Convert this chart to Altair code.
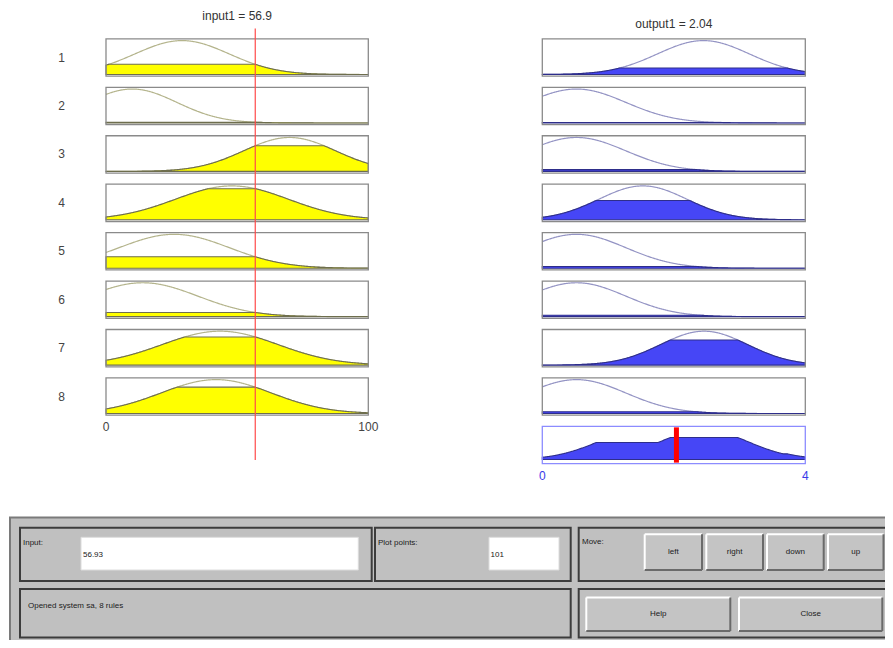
import altair as alt
import numpy as np
import pandas as pd

# ---------------- data ----------------
INPUT_NAME = "input1"
OUTPUT_NAME = "output1"
INPUT_VALUE = 56.9
INPUT_FIELD_TEXT = "56.93"
OUTPUT_VALUE = 2.04
PLOT_POINTS = 101
SYSTEM_NAME = "sa"

rule_ids = [1, 2, 3, 4, 5, 6, 7, 8]
in_range = [0, 100]
out_range = [0, 4]

# gaussian input membership functions (center, sigma)
in_centers = [29, 10, 70, 48, 26, 14, 43.5, 42]
in_sigmas = [18, 17, 17.5, 21.5, 21, 21, 22, 21]

# gaussian output membership functions (center, sigma) and their clipping levels
out_centers = [2.45, 0.52, 0.52, 1.53, 0.52, 0.52, 2.46, 0.52]
out_sigmas = [0.70, 0.75, 0.75, 0.67, 0.75, 0.75, 0.66, 0.75]
out_levels = [0.19, 0.01, 0.05, 0.57, 0.05, 0.04, 0.74, 0.05]

in_tick_values = [0, 100]
out_tick_values = [0, 4]

# ---------------- layout constants ----------------
W, H = 877, 632
ROW_STEP = 1.4286            # row pitch in membership units
FRAME_LO, FRAME_HI = -0.05, 1.05
AGG_LIM = [-0.14, 1.115]     # membership limits of the aggregate panel
Y_DOMAIN = [-16.681, 1.9617]
LEFT_RANGE = [98.0, 360.3]
RIGHT_RANGE = [534.3, 797.3]
ROW_LABEL_X = -16.9
TITLE_IN_Y, TITLE_OUT_Y = 1.74, 1.49
TICK_IN_Y, TICK_OUT_Y = -10.407, -11.844
RED_LINE_Y = [1.36, -11.37]
FONT = "Liberation Sans"


def gauss(x, c, s):
    return np.exp(-((x - c) ** 2) / (2.0 * s ** 2))


xin = np.linspace(in_range[0], in_range[1], 401)
xout = np.linspace(out_range[0], out_range[1], 401)

in_frames, out_frames, in_curves, out_curves = [], [], [], []
agg = np.zeros_like(xout)
for i, r in enumerate(rule_ids):
    base = -i * ROW_STEP
    mf = gauss(xin, in_centers[i], in_sigmas[i])
    level = float(gauss(INPUT_VALUE, in_centers[i], in_sigmas[i]))
    in_curves.append(pd.DataFrame({"rule": r, "x": xin, "y_mf": base + mf,
                                   "y_fill": base + np.minimum(mf, level), "y_base": base}))
    mo = gauss(xout, out_centers[i], out_sigmas[i])
    clipped = np.minimum(mo, out_levels[i])
    agg = np.maximum(agg, clipped)
    out_curves.append(pd.DataFrame({"rule": r, "x": xout, "y_mf": base + mo,
                                    "y_fill": base + clipped, "y_base": base}))
    in_frames.append({"rule": r, "x0": in_range[0], "x1": in_range[1],
                      "y0": base + FRAME_LO, "y1": base + FRAME_HI,
                      "label": str(r), "xl": ROW_LABEL_X, "yl": base + 0.5})
    out_frames.append({"rule": r, "x0": out_range[0], "x1": out_range[1],
                       "y0": base + FRAME_LO, "y1": base + FRAME_HI})

in_df = pd.concat(in_curves, ignore_index=True)
out_df = pd.concat(out_curves, ignore_index=True)
in_fr = pd.DataFrame(in_frames)
out_fr = pd.DataFrame(out_frames)

agg_base = -len(rule_ids) * ROW_STEP
def agg_y(m):
    return agg_base + FRAME_LO + (m - AGG_LIM[0]) / (AGG_LIM[1] - AGG_LIM[0]) * (FRAME_HI - FRAME_LO)
agg_df = pd.DataFrame({"x": xout, "y": agg_y(agg), "y_base": agg_y(0.0)})
agg_fr = pd.DataFrame({"x0": [out_range[0]], "x1": [out_range[1]],
                       "y0": [agg_base + FRAME_LO], "y1": [agg_base + FRAME_HI]})
bar_df = pd.DataFrame({"x": [OUTPUT_VALUE], "y0": [agg_base + FRAME_LO + 0.03], "y1": [agg_base + FRAME_HI - 0.03]})
red_df = pd.DataFrame({"x": [INPUT_VALUE], "y0": [RED_LINE_Y[1]], "y1": [RED_LINE_Y[0]]})

title_in = pd.DataFrame({"x": [sum(in_range) / 2], "y": [TITLE_IN_Y],
                         "t": [f"{INPUT_NAME} = {INPUT_VALUE:.1f}"]})
title_out = pd.DataFrame({"x": [sum(out_range) / 2], "y": [TITLE_OUT_Y],
                          "t": [f"{OUTPUT_NAME} = {OUTPUT_VALUE:.2f}"]})
ticks_in = pd.DataFrame({"x": in_tick_values, "y": TICK_IN_Y, "t": [str(v) for v in in_tick_values]})
ticks_out = pd.DataFrame({"x": out_tick_values, "y": TICK_OUT_Y, "t": [str(v) for v in out_tick_values]})

# ---------------- GUI widget layout (screen units of the rule viewer) ----------------
gui_panel = pd.DataFrame([{"x0": 10, "y0": 517.5, "x1": 905, "y1": 660}])
gui_groups = pd.DataFrame([
    {"x0": 20, "y0": 527.7, "x1": 371.7, "y1": 581},
    {"x0": 375, "y0": 527.7, "x1": 570.7, "y1": 581},
    {"x0": 578.7, "y0": 527.7, "x1": 905, "y1": 581},
    {"x0": 20, "y0": 589, "x1": 570.7, "y1": 637.5},
    {"x0": 578.7, "y0": 589, "x1": 905, "y1": 637.5},
])
gui_fields = pd.DataFrame([
    {"x0": 81, "y0": 537.3, "x1": 358.3, "y1": 570, "t": INPUT_FIELD_TEXT, "tx": 83, "ty": 555},
    {"x0": 489, "y0": 537.3, "x1": 559, "y1": 570, "t": str(PLOT_POINTS), "tx": 490.5, "ty": 555},
])
gui_buttons = pd.DataFrame([
    {"t": "left", "x0": 644.7, "y0": 534.3, "x1": 702, "y1": 570},
    {"t": "right", "x0": 706.3, "y0": 534.3, "x1": 763, "y1": 570},
    {"t": "down", "x0": 767, "y0": 534.3, "x1": 823.7, "y1": 570},
    {"t": "up", "x0": 828, "y0": 534.3, "x1": 883.5, "y1": 570},
    {"t": "Help", "x0": 586.3, "y0": 597.5, "x1": 730.3, "y1": 631},
    {"t": "Close", "x0": 739, "y0": 597.5, "x1": 882.3, "y1": 631},
])
gui_buttons["tx"] = (gui_buttons.x0 + gui_buttons.x1) / 2
gui_buttons["ty"] = (gui_buttons.y0 + gui_buttons.y1) / 2
edges = []
for b in gui_buttons.itertuples():
    edges += [
        {"x0": b.x0, "y0": b.y0, "x1": b.x1, "y1": b.y0, "c": "#ffffff"},
        {"x0": b.x0, "y0": b.y0, "x1": b.x0, "y1": b.y1, "c": "#ffffff"},
        {"x0": b.x0, "y0": b.y1, "x1": b.x1, "y1": b.y1, "c": "#6a6a6a"},
        {"x0": b.x1, "y0": b.y0, "x1": b.x1, "y1": b.y1, "c": "#6a6a6a"},
    ]
gui_edges = pd.DataFrame(edges)
gui_labels = pd.DataFrame([
    {"t": "Input:", "tx": 23, "ty": 543},
    {"t": "Plot points:", "tx": 378, "ty": 543},
    {"t": "Move:", "tx": 582, "ty": 542},
    {"t": f"Opened system {SYSTEM_NAME}, {len(rule_ids)} rules", "tx": 28, "ty": 606},
])

# ---------------- scales ----------------
def sx(rng, dom):
    return alt.Scale(domain=dom, range=rng, nice=False, zero=False)

SY = alt.Scale(domain=Y_DOMAIN, nice=False, zero=False)
GX = alt.Scale(domain=[8, 8 + W], nice=False, zero=False)
GY = alt.Scale(domain=[8, 8 + H], reverse=True, nice=False, zero=False)
XL = sx(LEFT_RANGE, in_range)
XR = sx(RIGHT_RANGE, out_range)


def X(field, sc):
    return alt.X(field, type="quantitative", scale=sc, axis=None)


def Y(field, sc=SY):
    return alt.Y(field, type="quantitative", scale=sc, axis=None)


layers = []
# input column
layers.append(alt.Chart(in_df).mark_line(color="#b4b48c", strokeWidth=1.2).encode(
    x=X("x", XL), y=Y("y_mf"), detail="rule:N"))
layers.append(alt.Chart(in_df).mark_area(color="#ffff00", stroke="#6e6e4e", strokeWidth=1.1).encode(
    x=X("x", XL), y=Y("y_fill"), y2="y_base", detail="rule:N"))
layers.append(alt.Chart(in_fr).mark_rect(fillOpacity=0, stroke="#8a8a8a", strokeWidth=1.3).encode(
    x=X("x0", XL), x2="x1", y=Y("y0"), y2="y1"))
layers.append(alt.Chart(in_fr).mark_text(font=FONT, fontSize=12, color="#444444").encode(
    x=X("xl", XL), y=Y("yl"), text="label:N"))
layers.append(alt.Chart(title_in).mark_text(font=FONT, fontSize=12, color="#333333").encode(
    x=X("x", XL), y=Y("y"), text="t:N"))
layers.append(alt.Chart(ticks_in).mark_text(font=FONT, fontSize=12, color="#444444").encode(
    x=X("x", XL), y=Y("y"), text="t:N"))
layers.append(alt.Chart(red_df).mark_rule(color="#ff4a4a", strokeWidth=1.2).encode(
    x=X("x", XL), y=Y("y0"), y2="y1"))
# output column
layers.append(alt.Chart(out_df).mark_line(color="#9494c4", strokeWidth=1.2).encode(
    x=X("x", XR), y=Y("y_mf"), detail="rule:N"))
layers.append(alt.Chart(out_df).mark_area(color="#4646f6", stroke="#2e2e8a", strokeWidth=1.1).encode(
    x=X("x", XR), y=Y("y_fill"), y2="y_base", detail="rule:N"))
layers.append(alt.Chart(out_fr).mark_rect(fillOpacity=0, stroke="#8a8a8a", strokeWidth=1.3).encode(
    x=X("x0", XR), x2="x1", y=Y("y0"), y2="y1"))
layers.append(alt.Chart(agg_df).mark_area(color="#4646f6", stroke="#2e2e8a", strokeWidth=1.1).encode(
    x=X("x", XR), y=Y("y"), y2="y_base"))
layers.append(alt.Chart(agg_fr).mark_rect(fillOpacity=0, stroke="#8c8cff", strokeWidth=1.3).encode(
    x=X("x0", XR), x2="x1", y=Y("y0"), y2="y1"))
layers.append(alt.Chart(bar_df).mark_rule(color="#ff0000", strokeWidth=5).encode(
    x=X("x", XR), y=Y("y0"), y2="y1"))
layers.append(alt.Chart(title_out).mark_text(font=FONT, fontSize=12, color="#333333").encode(
    x=X("x", XR), y=Y("y"), text="t:N"))
layers.append(alt.Chart(ticks_out).mark_text(font=FONT, fontSize=12, color="#3a3ae8").encode(
    x=X("x", XR), y=Y("y"), text="t:N"))
# GUI
layers.append(alt.Chart(gui_panel).mark_rect(fill="#c0c0c0", stroke="#7a7a7a", strokeWidth=2).encode(
    x=X("x0", GX), x2="x1", y=Y("y0", GY), y2="y1"))
layers.append(alt.Chart(gui_groups).mark_rect(fillOpacity=0, stroke="#3c3c3c", strokeWidth=2).encode(
    x=X("x0", GX), x2="x1", y=Y("y0", GY), y2="y1"))
layers.append(alt.Chart(gui_fields).mark_rect(fill="#ffffff", stroke="#dcdcdc", strokeWidth=1).encode(
    x=X("x0", GX), x2="x1", y=Y("y0", GY), y2="y1"))
layers.append(alt.Chart(gui_buttons).mark_rect(fill="#c4c4c4").encode(
    x=X("x0", GX), x2="x1", y=Y("y0", GY), y2="y1"))
layers.append(alt.Chart(gui_edges).mark_rule(strokeWidth=2).encode(
    x=X("x0", GX), x2="x1", y=Y("y0", GY), y2="y1", color=alt.Color("c:N", scale=None)))
layers.append(alt.Chart(gui_fields).mark_text(font=FONT, fontSize=8, color="#202020", align="left").encode(
    x=X("tx", GX), y=Y("ty", GY), text="t:N"))
layers.append(alt.Chart(gui_buttons).mark_text(font=FONT, fontSize=8, color="#202020").encode(
    x=X("tx", GX), y=Y("ty", GY), text="t:N"))
layers.append(alt.Chart(gui_labels).mark_text(font=FONT, fontSize=8, color="#202020", align="left").encode(
    x=X("tx", GX), y=Y("ty", GY), text="t:N"))

chart = alt.layer(*layers).resolve_scale(x="independent", y="independent").properties(
    width=W, height=H, padding=0, autosize=alt.AutoSizeParams(type="none")
).configure_view(stroke=None)

chart.save("out.html", embed_options={"renderer": "svg", "actions": False})
